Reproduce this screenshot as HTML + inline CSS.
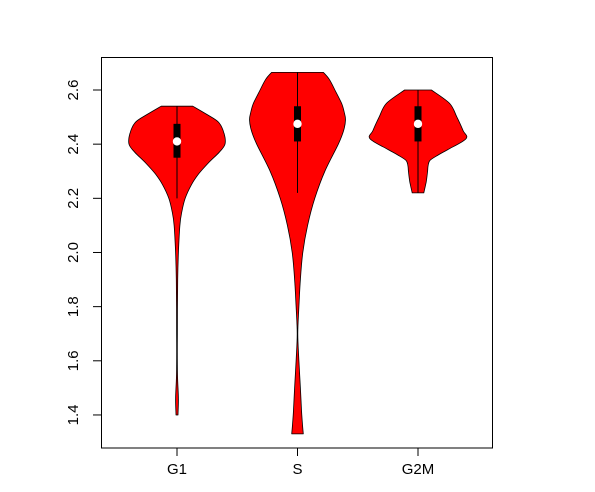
<!DOCTYPE html>
<html><head><meta charset="utf-8"><style>
html,body{margin:0;padding:0;background:#fff}
svg text{font-family:"Liberation Sans",Arial,sans-serif;font-size:15px;fill:#000}
</style></head><body>
<svg id="chart" width="595" height="487" viewBox="0 0 595 487"></svg>
<script>
const categories = ["G1","S","G2M"];
const yTicks = [1.4,1.6,1.8,2.0,2.2,2.4,2.6];
const g1Values = [2.54,2.51,2.48,2.44,2.40,2.37,2.33,2.29,2.25,2.20,2.15,2.10,2.00,1.90,1.70,1.55,1.46,1.40];
const g1Density = [0.33,0.62,0.87,0.98,1.0,0.88,0.65,0.45,0.3,0.17,0.1,0.06,0.03,0.015,0.008,0.01,0.03,0.02];
const sValues = [2.665,2.64,2.60,2.55,2.52,2.49,2.45,2.40,2.30,2.20,2.10,2.00,1.90,1.80,1.70,1.60,1.50,1.40,1.33];
const sDensity = [0.54,0.66,0.78,0.92,0.97,1.0,0.96,0.85,0.57,0.36,0.21,0.11,0.06,0.03,0.006,0.03,0.06,0.09,0.12];
const g2mValues = [2.60,2.55,2.50,2.45,2.42,2.38,2.36,2.34,2.32,2.30,2.26,2.22];
const g2mDensity = [0.28,0.66,0.81,0.94,1.0,0.62,0.42,0.25,0.21,0.2,0.17,0.12];
const boxQ1 = [2.35,2.41,2.41];
const boxQ3 = [2.475,2.54,2.54];
const medians = [2.41,2.475,2.475];
const whiskLo = [2.20,2.22,2.22];
const whiskHi = [2.54,2.665,2.60];

const NS="http://www.w3.org/2000/svg";
const svg=document.getElementById('chart');
function yS(v){return 90+(2.6-v)*270.8;}
function xS(i){return 177+i*120.5;}
const maxHW=48;
function mk(t,a){const e=document.createElementNS(NS,t);for(const k in a)e.setAttribute(k,a[k]);svg.appendChild(e);return e;}
function smooth(pts){
  let d='M'+pts[0][0].toFixed(1)+','+pts[0][1].toFixed(1);
  for(let i=0;i<pts.length-1;i++){
    const p0=pts[Math.max(i-1,0)],p1=pts[i],p2=pts[i+1],p3=pts[Math.min(i+2,pts.length-1)];
    const c1=[p1[0]+(p2[0]-p0[0])/6,p1[1]+(p2[1]-p0[1])/6];
    const c2=[p2[0]-(p3[0]-p1[0])/6,p2[1]-(p3[1]-p1[1])/6];
    d+=' C'+c1.map(n=>n.toFixed(1)).join(',')+' '+c2.map(n=>n.toFixed(1)).join(',')+' '+p2.map(n=>n.toFixed(1)).join(',');
  }
  return d;
}
const series=[[g1Values,g1Density],[sValues,sDensity],[g2mValues,g2mDensity]];
series.forEach((s,i)=>{
  const vals=s[0],d=s[1],cx=xS(i);
  const r=vals.map((v,j)=>[cx+d[j]*maxHW,yS(v)]);
  const l=vals.map((v,j)=>[cx-d[j]*maxHW,yS(v)]).reverse();
  const path=smooth(r)+' L'+l[0][0].toFixed(1)+','+l[0][1].toFixed(1)+' '+smooth(l).slice(1).replace(/^[^C]*/,'')+' Z';
  const p=mk('path',{d:path,fill:'#ff0000',stroke:'#000','stroke-width':'0.8','stroke-linejoin':'round'});
  
  
  const w=mk('line',{x1:cx,x2:cx,y1:yS(whiskHi[i]),y2:yS(whiskLo[i]),stroke:'#000','stroke-width':'1'});
  
  
  const b=mk('rect',{x:cx-3.5,y:yS(boxQ3[i]),width:7,height:yS(boxQ1[i])-yS(boxQ3[i]),fill:'#000'});
  
  
  const m=mk('circle',{cx:cx,cy:yS(medians[i]),r:4.2,fill:'#fff'});
  
  
  const t=mk('line',{x1:cx,x2:cx,y1:448,y2:456,stroke:'#000'});
  
  
  const lb=mk('text',{x:cx,y:474,'text-anchor':'middle'});
  lb.textContent=categories[i];
  
  
});
const frame=mk('rect',{x:101.5,y:57.5,width:391,height:390.5,fill:'none',stroke:'#000','stroke-width':'1'});


const ax=mk('line',{x1:101.5,x2:101.5,y1:yS(1.4),y2:yS(2.6),stroke:'#000'});


yTicks.forEach(v=>{
  const y=yS(v);
  const t=mk('line',{x1:93,x2:101.5,y1:y,y2:y,stroke:'#000'});
  
  
  const lb=mk('text',{x:78,y:y,'text-anchor':'middle',transform:'rotate(-90 78 '+y+')'});
  lb.textContent=v.toFixed(1);
  
  
});
</script>
</body></html>
